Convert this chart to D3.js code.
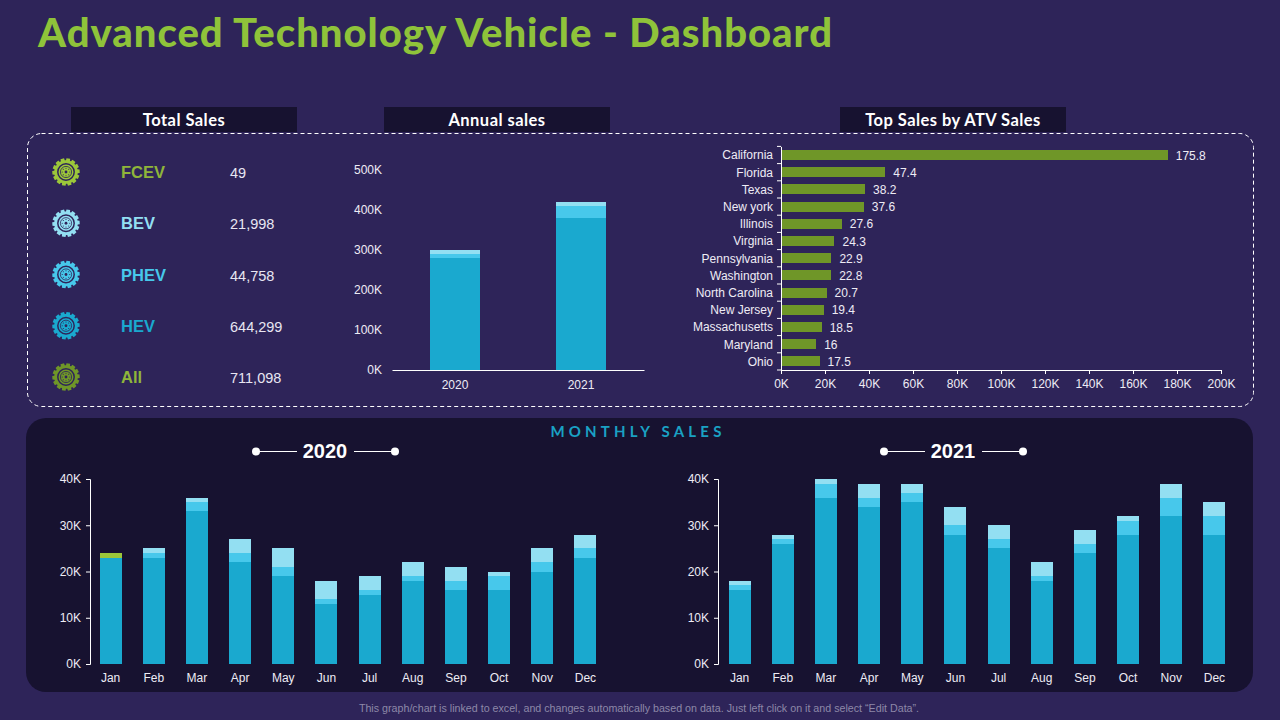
<!DOCTYPE html>
<html><head><meta charset="utf-8">
<script src="https://cdn.jsdelivr.net/npm/d3@7"></script>
<style>
html,body{margin:0;padding:0;background:#2e2459;overflow:hidden}
svg{display:block}
text{font-family:"Liberation Sans",Arial,sans-serif}
.head{font-family:Lato,sans-serif;font-weight:700}
.title{font-family:Lato,sans-serif;font-weight:900}
.axis text{fill:#eeecf5;font-size:12px}
.axis path,.axis line{stroke:#fff;stroke-width:1}
.bars rect{shape-rendering:crispEdges}
</style></head><body>
<svg id="c" width="1280" height="720"></svg>
<script>
const titleText="Advanced Technology Vehicle - Dashboard";
const kpiNames=["FCEV","BEV","PHEV","HEV","All"];
const kpiValues=["49","21,998","44,758","644,299","711,098"];
const kpiColors=["#9cc73a","#93dff2","#47c8eb","#1aa9cf","#6f9628"];
const kpiTextColors=["#8fb53a","#93dff2","#47c8eb","#1aa9cf","#8fb53a"];
const years=["2020","2021"];
const annualHEV=[280,380], annualPHEV=[10,30], annualBEV=[10,10];
const states=["California","Florida","Texas","New york","Illinois","Virginia","Pennsylvania","Washington","North Carolina","New Jersey","Massachusetts","Maryland","Ohio"];
const stateSales=[175.8,47.4,38.2,37.6,27.6,24.3,22.9,22.8,20.7,19.4,18.5,16,17.5];
const months=["Jan","Feb","Mar","Apr","May","Jun","Jul","Aug","Sep","Oct","Nov","Dec"];
const hev2020=[23,23,33,22,19,13,15,18,16,16,20,23];
const phev2020=[0,1,2,2,2,1,1,1,2,3,2,2];
const bev2020=[0,1,1,3,4,4,3,3,3,1,3,3];
const fcev2020=[1,0,0,0,0,0,0,0,0,0,0,0];
const hev2021=[16,26,36,34,35,28,25,18,24,28,32,28];
const phev2021=[1,1,3,2,2,2,2,1,2,3,4,4];
const bev2021=[1,1,1,3,2,4,3,3,3,1,3,3];
const fcev2021=[0,0,0,0,0,0,0,0,0,0,0,0];
const seriesKeys=["hev","phev","bev","fcev"];
const seriesColor={hev:"#1aa9cf",phev:"#47c8eb",bev:"#93dff2",fcev:"#9cc73a"};
const barGreen="#6f9628";

const svg=d3.select("#c");
svg.append("text").attr("class","title").attr("x",38).attr("y",47)
  .attr("font-size",40).attr("fill","#8fc33a").attr("textLength",794).text(titleText);

// panels
svg.append("rect").attr("x",27.5).attr("y",133.5).attr("width",1226).attr("height",273).attr("rx",14)
  .attr("fill","none").attr("stroke","#fff").attr("stroke-dasharray","4 3");
svg.append("rect").attr("x",26).attr("y",418).attr("width",1227).attr("height",274).attr("rx",20).attr("fill","#171230");
[[71,"Total Sales"],[384,"Annual sales"],[840,"Top Sales by ATV Sales"]].forEach(([x,t])=>{
  svg.append("rect").attr("x",x).attr("y",107).attr("width",226).attr("height",25).attr("fill","#171230");
  svg.append("text").attr("class","head").attr("x",x+113).attr("y",126).attr("text-anchor","middle")
    .attr("font-size",16.5).attr("letter-spacing",0.45).attr("fill","#fff").text(t);
});

// tyre icon
function tyre(g,color){
  const teeth=14,pts=[];
  for(let i=0;i<teeth;i++){
    const a=i/teeth*2*Math.PI,s=2*Math.PI/teeth;
    pts.push([a,11.8],[a+s*.08,13.8],[a+s*.68,13.8],[a+s*.76,11.8]);
  }
  g.append("path").attr("d",d3.lineRadial().curve(d3.curveLinearClosed)(pts)).attr("fill",color);
  g.append("circle").attr("r",8.2).attr("fill","none").attr("stroke","#2e2459").attr("stroke-width",1.5);
  g.append("circle").attr("r",5.6).attr("fill","none").attr("stroke","#2e2459").attr("stroke-width",0.8);
  d3.range(8).forEach(i=>{const a=i/8*2*Math.PI;
    g.append("circle").attr("cx",3.8*Math.cos(a)).attr("cy",3.8*Math.sin(a)).attr("r",.55).attr("fill","#2e2459");});
  g.append("circle").attr("r",1.4).attr("fill","#2e2459");
}
const kpiY=d3.scalePoint().domain(kpiNames).range([172,377]);
kpiNames.forEach((n,i)=>{
  const y=kpiY(n);
  tyre(svg.append("g").attr("transform",`translate(66,${y})`),kpiColors[i]);
  svg.append("text").attr("x",121).attr("y",y+6).attr("font-size",16.5).attr("font-weight",700).attr("fill",kpiTextColors[i]).text(n);
  svg.append("text").attr("x",230).attr("y",y+6).attr("font-size",14.5).attr("fill","#e8e6f2").text(kpiValues[i]);
});

// stacked helper
function stacked(g,cats,rows,x,y,bw){
  const st=d3.stack().keys(seriesKeys)(rows);
  st.forEach(s=>{
    g.selectAll(null).data(s).enter().append("rect")
     .attr("x",(d,i)=>x(cats[i])+(x.bandwidth()-bw)/2)
     .attr("width",bw)
     .attr("y",d=>y(d[1]))
     .attr("height",d=>y(d[0])-y(d[1]))
     .attr("fill",seriesColor[s.key]);
  });
}
const zip=(h,p,b,f)=>h.map((v,i)=>({hev:v,phev:p[i],bev:b[i],fcev:f?f[i]:0}));
const fmtK=d=>d+"K";

// annual
{
  const x=d3.scaleBand().domain(years).range([392,644]);
  const y=d3.scaleLinear().domain([0,500]).range([370,170]);
  const g=svg.append("g").attr("class","bars");
  stacked(g,years,zip(annualHEV,annualPHEV,annualBEV),x,y,50);
  const ax=svg.append("g").attr("class","axis").attr("transform","translate(0,370)")
    .call(d3.axisBottom(x).tickSize(0).tickPadding(10));
  ax.select("path").attr("stroke-width",1.4);
  const ay=svg.append("g").attr("class","axis").attr("transform","translate(392,0)")
    .call(d3.axisLeft(y).tickValues(d3.range(0,501,100)).tickFormat(fmtK).tickSize(0).tickPadding(10));
  ay.select("path").remove();
}

// top states
{
  const x=d3.scaleLinear().domain([0,200]).range([781,1221]);
  const y=d3.scaleBand().domain(states).range([146.4,370]);
  svg.append("g").attr("class","bars").selectAll("rect").data(stateSales).enter().append("rect")
    .attr("x",x(0)).attr("y",(d,i)=>y(states[i])+(y.bandwidth()-10)/2)
    .attr("width",d=>x(d)-x(0)).attr("height",10).attr("fill",barGreen);
  svg.append("g").selectAll("text").data(stateSales).enter().append("text")
    .attr("x",d=>x(d)+8).attr("y",(d,i)=>y(states[i])+y.bandwidth()/2+4.5)
    .attr("font-size",12).attr("fill","#eeecf5").text(d=>d);
  svg.append("g").attr("class","axis").attr("transform","translate(0,370)")
    .call(d3.axisBottom(x).tickValues(d3.range(0,201,20)).tickFormat(fmtK).tickSizeOuter(4).tickSizeInner(4).tickPadding(5));
  const ay=svg.append("g").attr("class","axis").attr("transform","translate(781,0)")
    .call(d3.axisLeft(y).tickSize(0).tickPadding(8));
  ay.selectAll(".tick text").attr("dy","0.37em");
  y.domain().concat([null]).forEach((s,i)=>{
    const yy=146.4+i*y.step();
    ay.append("line").attr("x1",-4).attr("x2",0).attr("y1",yy).attr("y2",yy);
  });
}

// monthly
[[89,607,90,"2020",zip(hev2020,phev2020,bev2020,fcev2020),325],[718,1236,718,"2021",zip(hev2021,phev2021,bev2021,fcev2021),953]].forEach(([x0,x1,axisX,yr,rows,cx])=>{
  const x=d3.scaleBand().domain(months).range([x0,x1]);
  const y=d3.scaleLinear().domain([0,40]).range([664,479]);
  stacked(svg.append("g").attr("class","bars"),months,rows,x,y,22);
  svg.append("g").attr("class","axis").attr("transform","translate(0,664)")
    .call(d3.axisBottom(x).tickSize(0).tickPadding(9)).select("path").remove();
  svg.append("g").attr("class","axis").attr("transform",`translate(${axisX},0)`)
    .call(d3.axisLeft(y).tickValues(d3.range(0,41,10)).tickFormat(fmtK).tickSizeInner(4).tickSizeOuter(4).tickPadding(5));
  svg.append("text").attr("x",cx).attr("y",458).attr("text-anchor","middle").attr("font-size",20).attr("font-weight",700).attr("fill","#fff").text(yr);
  [[-28,-69],[29,70]].forEach(([a,b])=>{
    svg.append("line").attr("x1",cx+a).attr("x2",cx+b).attr("y1",451.5).attr("y2",451.5).attr("stroke","#fff").attr("stroke-width",1.2);
    svg.append("circle").attr("cx",cx+b).attr("cy",451.5).attr("r",4).attr("fill","#fff");
  });
});

svg.append("text").attr("class","head").attr("x",638).attr("y",437).attr("text-anchor","middle")
  .attr("font-size",15).attr("letter-spacing",4.2).attr("fill","#1aa1c4").text("MONTHLY SALES");
svg.append("text").attr("x",639).attr("y",711.5).attr("text-anchor","middle").attr("font-size",10.7)
  .attr("fill","#8d88a8").text("This graph/chart is linked to excel, and changes automatically based on data. Just left click on it and select “Edit Data”.");
</script>
</body></html>
